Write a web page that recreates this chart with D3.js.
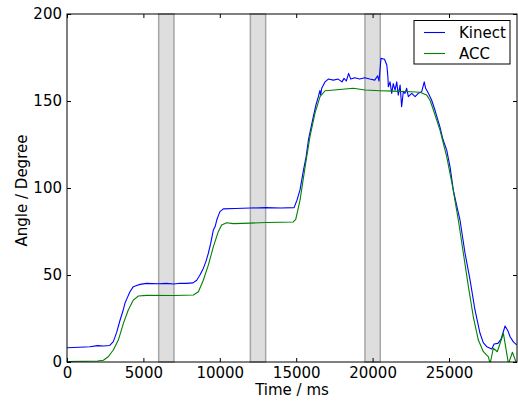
<!DOCTYPE html>
<html>
<head>
<meta charset="utf-8">
<script src="https://cdn.jsdelivr.net/npm/d3@7"></script>
<style>
  html, body { margin: 0; padding: 0; background: #fff; }
  svg { display: block; }
  text { font-family: "DejaVu Sans", sans-serif; fill: #000; }
</style>
</head>
<body>
<svg id="chart" width="518" height="405"></svg>
<script>
// Joint angle over time: Kinect skeleton vs accelerometer (ACC)
const kinect = [
  [0, 8.2], [800, 8.5], [1500, 8.8], [2000, 9.4], [2400, 9.2], [2800, 9.5],
  [3030, 11.7], [3250, 17], [3470, 24], [3650, 29], [3800, 34], [3950, 37],
  [4120, 40.4], [4340, 43.3], [4560, 44], [4780, 44.6], [5200, 45.2], [6000, 45],
  [6500, 45.2], [7000, 44.8], [7400, 45.3], [7800, 45.2], [8250, 45.5], [8490, 47],
  [8700, 50], [8920, 53.8], [9100, 58], [9250, 62.5], [9400, 68], [9580, 75.9],
  [9700, 78], [9800, 81.6], [9900, 84], [10010, 86.4], [10230, 88], [11000, 88.2],
  [12000, 88.5], [13000, 88.7], [14000, 88.5], [14860, 88.7], [15050, 93],
  [15250, 98.9], [15470, 110], [15650, 118], [15800, 127.6], [16000, 136],
  [16120, 141], [16300, 148], [16450, 152.5], [16550, 156], [16600, 153.5],
  [16670, 157.3], [16890, 161], [17100, 162.6], [17430, 162], [17750, 162.6],
  [18000, 161], [18130, 163], [18280, 161.5], [18430, 165.9], [18570, 162.6],
  [18830, 163.4], [19160, 162.6], [19490, 163.4], [19820, 162.6], [20140, 162],
  [20330, 164.5], [20420, 161.5], [20550, 174.5], [20780, 174], [20930, 170.7],
  [21000, 164], [21030, 158.2], [21140, 161], [21250, 154.4], [21350, 160],
  [21470, 156.3], [21580, 161], [21680, 153.4], [21800, 159.2], [21900, 146.7],
  [22010, 155.3], [22120, 154.4], [22230, 157.3], [22340, 152.5], [22560, 154.4],
  [22780, 152.5], [22990, 154.4], [23210, 155.3], [23380, 161], [23470, 157.3],
  [23650, 154.4], [23860, 150.6], [24080, 144.8], [24410, 135], [24600, 128],
  [24850, 121.8], [25070, 112], [25280, 98.9], [25500, 90], [25720, 81.6],
  [26050, 62.5], [26380, 47], [26700, 29.9], [27030, 16.5], [27250, 11],
  [27470, 8.8], [27800, 7.5], [27950, 10.3], [28200, 10.7], [28400, 13],
  [28670, 20.7], [28850, 18], [29000, 14.5], [29200, 11.7], [29430, 9.8]
];

const acc = [
  [0, 0.3], [1000, 0.4], [2000, 0.6], [2380, 1], [2700, 3], [3030, 6.9],
  [3360, 12.6], [3690, 22.2], [4010, 29.9], [4340, 35.6], [4670, 37.9],
  [5210, 38.3], [7000, 38.2], [8270, 38.5], [8600, 40.4], [8920, 47],
  [9250, 55.7], [9580, 66.3], [9900, 74.9], [10120, 78.7], [10450, 80],
  [10890, 79.5], [12000, 79.8], [13000, 80.2], [14000, 80.3], [14810, 80.5],
  [14970, 82], [15250, 93], [15580, 112], [15900, 129.5], [16230, 143],
  [16560, 152.5], [16890, 155.9], [17500, 156.3], [18740, 157.3], [19500, 156.3],
  [20490, 155.9], [21360, 155.7], [22500, 155.3], [23100, 155], [23540, 153.4],
  [23750, 150.6], [23980, 144.8], [24410, 133.3], [24850, 118], [25220, 101.5],
  [25610, 81.6], [25940, 62.5], [26270, 43.3], [26590, 26], [26920, 12.6],
  [27250, 5.9], [27580, 3], [27690, -1], [27900, 7.9], [28160, 5.9],
  [28560, 16.5], [28890, -1], [29150, 5.6], [29430, -1]
];

// Shaded intervals (ms)
const bands = [[6000, 7000], [12000, 13000], [19500, 20500]];

const xTicks = [0, 5000, 10000, 15000, 20000, 25000];
const yTicks = [0, 50, 100, 150, 200];

const seriesNames = ["Kinect", "ACC"];
const seriesColors = ["#0000ff", "#008000"];

const M = { left: 67, right: 517, top: 14, bottom: 362 };

const svg = d3.select("#chart");
const x = d3.scaleLinear().domain([0, 29450]).range([M.left, M.right]);
const y = d3.scaleLinear().domain([0, 200]).range([M.bottom, M.top]);

svg.append("defs").append("clipPath").attr("id", "plot-clip")
  .append("rect").attr("x", M.left).attr("y", M.top)
  .attr("width", M.right - M.left).attr("height", M.bottom - M.top);

// shaded intervals
svg.append("g").selectAll("rect").data(bands).join("rect")
  .attr("x", d => x(d[0]))
  .attr("y", M.top)
  .attr("width", d => x(d[1]) - x(d[0]))
  .attr("height", M.bottom - M.top)
  .attr("fill", "#dedede")
  .attr("stroke", "#a6a6a6")
  .attr("stroke-width", 1.5);

// data lines
const line = d3.line().x(d => x(d[0])).y(d => y(d[1]));
const plot = svg.append("g").attr("clip-path", "url(#plot-clip)");
[kinect, acc].forEach((s, i) => {
  plot.append("path").datum(s)
    .attr("d", line)
    .attr("fill", "none")
    .attr("stroke", seriesColors[i])
    .attr("stroke-width", 1.1)
    .attr("stroke-linejoin", "round");
});

// axes with inward ticks on all four sides
const fontSize = 15;
const bottomAxis = d3.axisBottom(x).tickValues(xTicks).tickSize(-4).tickPadding(5.5).tickFormat(d3.format("d"));
const topAxis = d3.axisTop(x).tickValues(xTicks).tickSize(-4).tickFormat("");
const leftAxis = d3.axisLeft(y).tickValues(yTicks).tickSize(-4).tickPadding(5).tickFormat(d3.format("d"));
const rightAxis = d3.axisRight(y).tickValues(yTicks).tickSize(-4).tickFormat("");

function style(g) {
  g.select(".domain").remove();
  g.selectAll(".tick line").attr("stroke", "#000").attr("stroke-width", 1);
  g.selectAll(".tick text").attr("font-family", "DejaVu Sans").attr("font-size", fontSize).attr("fill", "#000");
}
svg.append("g").attr("transform", `translate(0,${M.bottom})`).call(bottomAxis).call(style);
svg.append("g").attr("transform", `translate(0,${M.top})`).call(topAxis).call(style);
svg.append("g").attr("transform", `translate(${M.left},0)`).call(leftAxis).call(style);
svg.append("g").attr("transform", `translate(${M.right},0)`).call(rightAxis).call(style);

// frame
svg.append("rect").attr("x", M.left).attr("y", M.top)
  .attr("width", M.right - M.left).attr("height", M.bottom - M.top)
  .attr("fill", "none").attr("stroke", "#000").attr("stroke-width", 1);

// axis titles
svg.append("text").attr("x", (M.left + M.right) / 2).attr("y", 394.5)
  .attr("text-anchor", "middle").attr("font-size", fontSize).text("Time / ms");
svg.append("text").attr("transform", `translate(26.5,${(M.top + M.bottom) / 2 + 2.5}) rotate(-90)`)
  .attr("text-anchor", "middle").attr("font-size", fontSize).text("Angle / Degree");

// legend
const lg = svg.append("g");
lg.append("rect").attr("x", 414).attr("y", 20.5).attr("width", 96).attr("height", 43.5)
  .attr("fill", "#fff").attr("stroke", "#000").attr("stroke-width", 1);
seriesNames.forEach((name, i) => {
  const yy = 32.5 + i * 21;
  lg.append("line").attr("x1", 424).attr("x2", 445).attr("y1", yy).attr("y2", yy)
    .attr("stroke", seriesColors[i]).attr("stroke-width", 1.1);
  lg.append("text").attr("x", 459).attr("y", yy + 5.5).attr("font-size", fontSize).text(name);
});
</script>
</body>
</html>
